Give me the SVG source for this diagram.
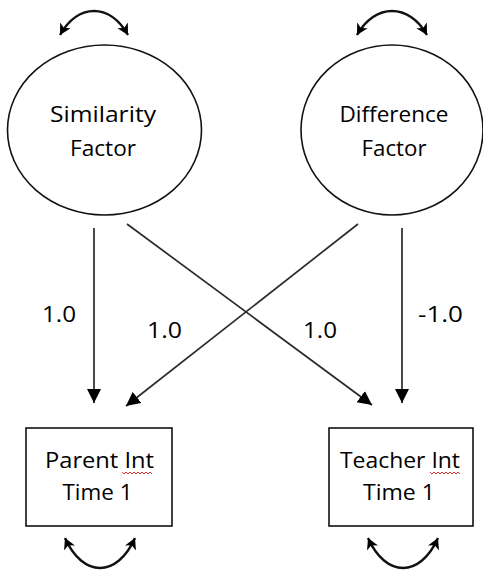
<svg xmlns="http://www.w3.org/2000/svg" width="483" height="576" viewBox="0 0 483 576">
<style>
  .node { fill: #ffffff; stroke: #111111; stroke-width: 1.6; }
  .lbl { font-family: "Open Sans", "Liberation Sans", sans-serif; font-size: 22px; fill: #000000; text-anchor: middle; }
  .coef { font-family: "Open Sans", "Liberation Sans", sans-serif; font-size: 22px; fill: #000000; }
  .path { fill: none; stroke: #2a2a2a; stroke-width: 1.7; }
  .cov { fill: none; stroke: #111111; stroke-width: 2.4; }
  .squig { fill: none; stroke: #e03030; stroke-width: 1; }
</style>
<defs>
  <marker id="tri" markerUnits="userSpaceOnUse" markerWidth="15" markerHeight="15" refX="14" refY="7" orient="auto">
    <path d="M0,0 L14,7 L0,14 z" fill="#000000"/>
  </marker>
  <marker id="cv" markerUnits="userSpaceOnUse" markerWidth="13" markerHeight="13" refX="11" refY="6" orient="auto-start-reverse">
    <path d="M0,0 L11,6 L0,12 L3,6 z" fill="#000000"/>
  </marker>
</defs>

<g id="connectors">
  <line class="path" x1="94" y1="228" x2="94" y2="403" marker-end="url(#tri)"/>
  <line class="path" x1="402" y1="228" x2="402" y2="403" marker-end="url(#tri)"/>
  <line class="path" x1="127" y1="224" x2="372" y2="405" marker-end="url(#tri)"/>
  <line class="path" x1="358" y1="224" x2="126" y2="406" marker-end="url(#tri)"/>
  <text class="coef" x="42" y="322" textLength="34" lengthAdjust="spacingAndGlyphs">1.0</text>
  <text class="coef" x="147" y="338" textLength="35" lengthAdjust="spacingAndGlyphs">1.0</text>
  <text class="coef" x="303" y="338" textLength="34" lengthAdjust="spacingAndGlyphs">1.0</text>
  <text class="coef" x="418" y="322" textLength="45" lengthAdjust="spacingAndGlyphs">-1.0</text>
  <path class="cov" d="M60,35 C78,3 110,3 128,35" marker-start="url(#cv)" marker-end="url(#cv)"/>
  <path class="cov" d="M357,35 C375,3 409,3 427,35" marker-start="url(#cv)" marker-end="url(#cv)"/>
  <path class="cov" d="M65,538 C83,578 117,578 135,538" marker-start="url(#cv)" marker-end="url(#cv)"/>
  <path class="cov" d="M368,538 C386,578 420,578 438,538" marker-start="url(#cv)" marker-end="url(#cv)"/>
</g>

<g id="similarity">
  <ellipse class="node" cx="104.5" cy="130" rx="97" ry="85"/>
  <text class="lbl" x="103" y="122" textLength="106" lengthAdjust="spacingAndGlyphs">Similarity</text>
  <text class="lbl" x="103" y="156" textLength="66" lengthAdjust="spacingAndGlyphs">Factor</text>
</g>

<g id="difference">
  <ellipse class="node" cx="392" cy="130" rx="91" ry="85"/>
  <text class="lbl" x="394" y="122" textLength="109" lengthAdjust="spacingAndGlyphs">Difference</text>
  <text class="lbl" x="394" y="156" textLength="65" lengthAdjust="spacingAndGlyphs">Factor</text>
</g>

<g id="parent">
  <rect class="node" x="26" y="428" width="146" height="98"/>
  <text class="lbl" x="99.5" y="468" textLength="109" lengthAdjust="spacingAndGlyphs">Parent Int</text>
  <path class="squig" d="M122,472 l2,2 l2,-2 l2,2 l2,-2 l2,2 l2,-2 l2,2 l2,-2 l2,2 l2,-2 l2,2 l2,-2 l2,2 l2,-2 l2,2"/>
  <text class="lbl" x="97.5" y="500" textLength="70" lengthAdjust="spacingAndGlyphs">Time 1</text>
</g>

<g id="teacher">
  <rect class="node" x="329" y="428" width="144" height="98"/>
  <text class="lbl" x="400" y="468" textLength="120" lengthAdjust="spacingAndGlyphs">Teacher Int</text>
  <path class="squig" d="M430,472 l2,2 l2,-2 l2,2 l2,-2 l2,2 l2,-2 l2,2 l2,-2 l2,2 l2,-2 l2,2 l2,-2 l2,2 l2,-2 l2,2"/>
  <text class="lbl" x="399" y="500" textLength="72" lengthAdjust="spacingAndGlyphs">Time 1</text>
</g>
</svg>
